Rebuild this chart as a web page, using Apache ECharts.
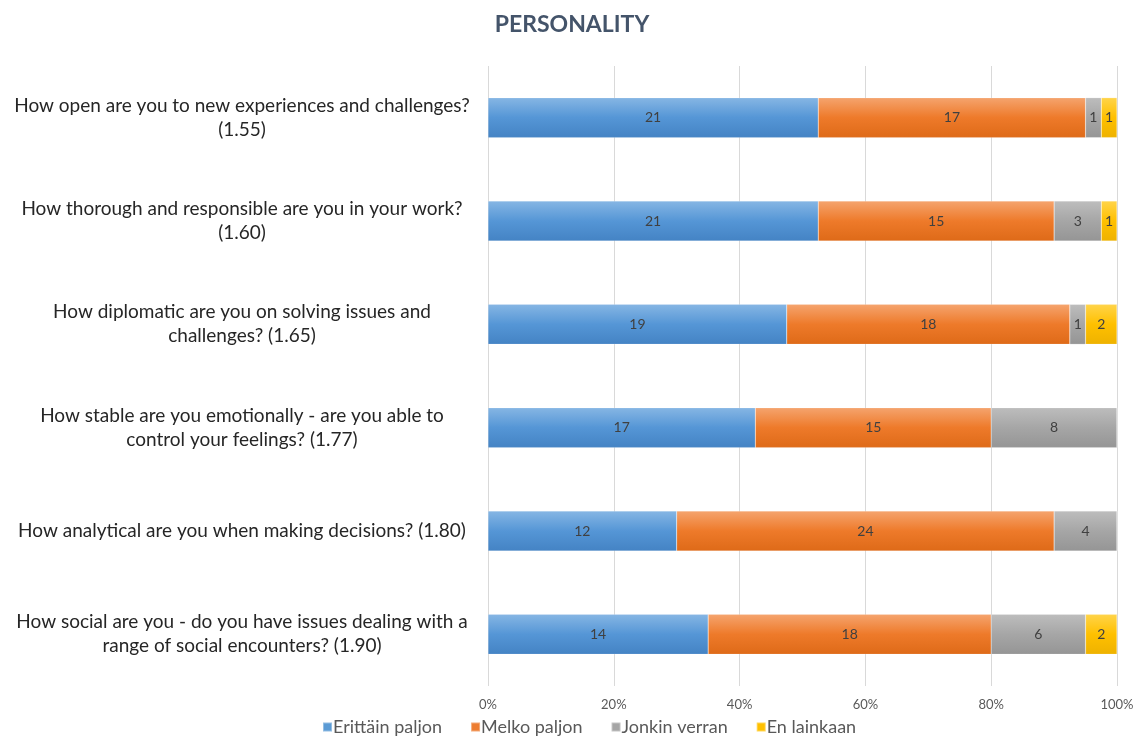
<!DOCTYPE html>
<html>
<head>
<meta charset="utf-8">
<style>
  html, body { margin: 0; padding: 0; background: #ffffff; }
  #chart { width: 1144px; height: 738px; }
</style>
<script src="https://cdn.jsdelivr.net/npm/echarts@6/dist/echarts.min.js"></script>
</head>
<body>
<div id="chart"></div>
<script>
// Survey questions (top to bottom) with the mean score in brackets
const questions = [
  'How open are you to new experiences and challenges?\n(1.55)',
  'How thorough and responsible are you in your work?\n(1.60)',
  'How diplomatic are you on solving issues and\nchallenges? (1.65)',
  'How stable are you emotionally - are you able to\ncontrol your feelings? (1.77)',
  'How analytical are you when making decisions? (1.80)',
  'How social are you - do you have issues dealing with a\nrange of social encounters? (1.90)'
];

// Answer counts per question
const erittainPaljon = [21, 21, 19, 17, 12, 14];
const melkoPaljon    = [17, 15, 18, 15, 24, 18];
const jonkinVerran   = [1, 3, 1, 8, 4, 6];
const enLainkaan     = [1, 1, 2, 0, 0, 2];

const seriesNames = ['Erittäin paljon', 'Melko paljon', 'Jonkin verran', 'En lainkaan'];
const percentTicks = ['0%', '20%', '40%', '60%', '80%', '100%'];

const counts = [erittainPaljon, melkoPaljon, jonkinVerran, enLainkaan];
const totals = questions.map((_, i) => counts.reduce((s, arr) => s + arr[i], 0));

// Gradient fills: lighter at the top edge of each bar, deeper below
const fills = [
  ['#86B6E4', '#5596D6', '#4483C4'],
  ['#F5A46E', '#EE7A2A', '#DE6A18'],
  ['#BDBDBD', '#A6A6A6', '#959595'],
  ['#FFD44A', '#FFC000', '#EEB200']
];
const legendColors = ['#5B9BD5', '#ED7D31', '#A5A5A5', '#FFC000'];

function gradient(c) {
  return new echarts.graphic.LinearGradient(0, 0, 0, 1, [
    { offset: 0, color: c[0] },
    { offset: 0.5, color: c[1] },
    { offset: 1, color: c[2] }
  ]);
}

const series = counts.map((arr, k) => ({
  name: seriesNames[k],
  type: 'bar',
  stack: 'total',
  barWidth: 40,
  itemStyle: { color: gradient(fills[k]), borderColor: 'rgba(255,255,255,0.35)', borderWidth: 0.5 },
  label: {
    show: true,
    position: 'inside',
    color: '#404040',
    fontFamily: 'Lato',
    fontSize: 14,
    formatter: p => (p.data.count > 0 ? String(p.data.count) : '')
  },
  data: arr.map((v, i) => ({ value: v / totals[i] * 100, count: v }))
}));

const chart = echarts.init(document.getElementById('chart'));
chart.setOption({
  animation: false,
  backgroundColor: '#ffffff',
  color: legendColors,
  title: {
    text: 'PERSONALITY',
    left: 'center',
    top: 8,
    textStyle: { fontFamily: 'Lato', fontWeight: 'bold', fontSize: 23, color: '#44546A' }
  },
  legend: {
    top: 713,
    left: 317,
    itemWidth: 9,
    itemHeight: 9,
    itemGap: 28,
    icon: 'rect',
    textStyle: { fontFamily: 'Lato', fontSize: 18, color: '#595959', padding: [0, 0, 0, -4] },
    data: seriesNames.map((n, k) => ({ name: n, itemStyle: { color: legendColors[k] } }))
  },
  grid: { left: 488, right: 27, top: 66, bottom: 52, containLabel: false },
  xAxis: {
    type: 'value',
    min: 0,
    max: 100,
    interval: 20,
    axisLine: { show: false },
    axisTick: { show: false },
    splitLine: { lineStyle: { color: '#D9D9D9', width: 1 } },
    axisLabel: {
      margin: 12,
      color: '#595959',
      fontFamily: 'Lato',
      fontSize: 13,
      formatter: v => percentTicks[Math.round(v / 20)]
    }
  },
  yAxis: {
    type: 'category',
    inverse: true,
    data: questions,
    axisLine: { show: false },
    axisTick: { show: false },
    axisLabel: {
      align: 'center',
      margin: 246,
      color: '#262626',
      fontFamily: 'Lato',
      fontSize: 19,
      lineHeight: 24
    }
  },
  series: series
});
</script>
</body>
</html>
